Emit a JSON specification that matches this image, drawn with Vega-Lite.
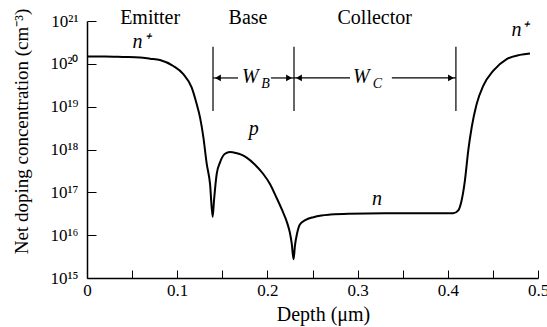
{
  "$schema": "https://vega.github.io/schema/vega-lite/v6.json",
  "width": 451,
  "height": 257,
  "autosize": "none",
  "padding": {"left": 87, "top": 21, "right": 9, "bottom": 49},
  "config": {"view": {"stroke": null}, "font": "Liberation Serif", "text": {"font": "Liberation Serif", "color": "black"},
    "axis": {"labelFont": "Liberation Serif", "titleFont": "Liberation Serif"}},
  "datasets": {
    "curve": [
      {"d": 0, "n": 1.479e20}, {"d": 0.02, "n": 1.479e20}, {"d": 0.04, "n": 1.445e20}, {"d": 0.0588, "n": 1.41e20},
      {"d": 0.07, "n": 1.32e20}, {"d": 0.0809, "n": 1.23e20}, {"d": 0.0957, "n": 8.91e19}, {"d": 0.1068, "n": 5.75e19},
      {"d": 0.116, "n": 2.82e19}, {"d": 0.1216, "n": 1.15e19}, {"d": 0.1253, "n": 5.62e18}, {"d": 0.129, "n": 1.95e18},
      {"d": 0.1327, "n": 4.68e17}, {"d": 0.1364, "n": 1.58e17}, {"d": 0.1393, "n": 2.69e16},
      {"d": 0.1408, "n": 6.46e16}, {"d": 0.1438, "n": 2.69e17}, {"d": 0.1475, "n": 5.01e17}, {"d": 0.153, "n": 7.94e17},
      {"d": 0.1585, "n": 8.71e17}, {"d": 0.165, "n": 8.32e17}, {"d": 0.171, "n": 7.59e17}, {"d": 0.177, "n": 6.46e17},
      {"d": 0.186, "n": 4.47e17}, {"d": 0.195, "n": 2.75e17}, {"d": 0.203, "n": 1.55e17}, {"d": 0.21, "n": 7.59e16},
      {"d": 0.216, "n": 3.98e16}, {"d": 0.222, "n": 1.91e16}, {"d": 0.225, "n": 1.12e16}, {"d": 0.227, "n": 6.31e15},
      {"d": 0.229, "n": 2.75e15},
      {"d": 0.2305, "n": 5.62e15}, {"d": 0.233, "n": 1.12e16}, {"d": 0.236, "n": 1.78e16}, {"d": 0.242, "n": 2.24e16},
      {"d": 0.251, "n": 2.63e16}, {"d": 0.26, "n": 2.88e16}, {"d": 0.27, "n": 3.02e16}, {"d": 0.29, "n": 3.16e16},
      {"d": 0.33, "n": 3.24e16}, {"d": 0.37, "n": 3.24e16}, {"d": 0.406, "n": 3.24e16}, {"d": 0.4116, "n": 3.8e16},
      {"d": 0.4153, "n": 6.46e16}, {"d": 0.419, "n": 1.91e17}, {"d": 0.4227, "n": 9.55e17}, {"d": 0.4265, "n": 3.31e18},
      {"d": 0.432, "n": 1.15e19}, {"d": 0.4394, "n": 3.09e19}, {"d": 0.4505, "n": 6.92e19}, {"d": 0.4653, "n": 1.29e20},
      {"d": 0.48, "n": 1.62e20}, {"d": 0.4911, "n": 1.74e20}
    ],
    "vlines": [{"x": 0.1397, "top": 2.5e20, "bottom": 7.9e18}, {"x": 0.2295, "top": 2.5e20, "bottom": 7.9e18}, {"x": 0.409, "top": 2.5e20, "bottom": 7.9e18}],
    "arrows": [
      {"x1": 0.1397, "x2": 0.1674, "y": 4.68e19},
      {"x1": 0.204, "x2": 0.2295, "y": 4.68e19},
      {"x1": 0.2295, "x2": 0.2916, "y": 4.68e19},
      {"x1": 0.338, "x2": 0.409, "y": 4.68e19}
    ],
    "heads": [
      {"x": 0.1452, "y": 4.68e19, "shape": "triangle-left"},
      {"x": 0.224, "y": 4.68e19, "shape": "triangle-right"},
      {"x": 0.235, "y": 4.68e19, "shape": "triangle-left"},
      {"x": 0.4035, "y": 4.68e19, "shape": "triangle-right"}
    ],
    "regions": [
      {"x": 0.07, "y": 8.5e20, "t": "Emitter"},
      {"x": 0.1785, "y": 8.5e20, "t": "Base"},
      {"x": 0.319, "y": 8.5e20, "t": "Collector"}
    ],
    "italics": [
      {"x": 0.06, "y": 2.34e20, "t": "n⁺"},
      {"x": 0.185, "y": 2.14e18, "t": "p"},
      {"x": 0.3215, "y": 5.0e16, "t": "n"},
      {"x": 0.48, "y": 4.47e20, "t": "n⁺"},
      {"x": 0.181, "y": 3.63e19, "t": "W"},
      {"x": 0.304, "y": 3.63e19, "t": "W"}
    ],
    "subs": [
      {"x": 0.198, "y": 2.75e19, "t": "B"},
      {"x": 0.322, "y": 2.75e19, "t": "C"}
    ]
  },
  "layer": [
    {
      "data": {"name": "curve"},
      "mark": {"type": "line", "color": "black", "strokeWidth": 2, "interpolate": "monotone", "clip": false},
      "encoding": {
        "x": {"field": "d", "type": "quantitative", "scale": {"domain": [0, 0.5], "nice": false},
          "axis": {"values": [0, 0.05, 0.1, 0.15, 0.2, 0.25, 0.3, 0.35, 0.4, 0.45, 0.5],
            "labelExpr": "round(datum.value*100) % 10 == 0 ? (datum.value == 0 ? '0' : format(datum.value, '.1f')) : ''",
            "grid": false, "tickSize": -8, "labelPadding": 12, "tickColor": "black", "domainColor": "black", "domainWidth": 1.5,
            "labelFont": "Liberation Serif", "labelFontSize": 17, "labelColor": "black", "labelFlush": false, "labelOverlap": false,
            "title": "Depth (μm)", "titleFont": "Liberation Serif", "titleFontSize": 20, "titleFontWeight": "normal", "titleColor": "black",
            "titleX": 236, "titleY": 42, "titleBaseline": "alphabetic", "titleAlign": "center"}},
        "y": {"field": "n", "type": "quantitative", "scale": {"type": "log", "domain": [1e15, 1e21], "nice": false},
          "axis": {"values": [1e15, 1e16, 1e17, 1e18, 1e19, 1e20, 1e21],
            "labelExpr": "'10' + ['⁰','¹','²','³','⁴','⁵','⁶','⁷','⁸','⁹'][floor(round(log(datum.value)/LN10)/10)] + ['⁰','¹','²','³','⁴','⁵','⁶','⁷','⁸','⁹'][round(log(datum.value)/LN10) % 10]",
            "grid": false, "tickSize": -9, "labelPadding": 18, "tickColor": "black", "domainColor": "black", "domainWidth": 1.5,
            "labelFont": "Liberation Serif", "labelFontSize": 17, "labelColor": "black", "labelOverlap": false, "labelFlush": false,
            "title": "Net doping concentration (cm⁻³)", "titleFont": "Liberation Serif", "titleFontSize": 19, "titleFontWeight": "normal", "titleColor": "black",
            "titleX": -66, "titleY": 110, "titleBaseline": "middle", "titleAlign": "center", "titleAngle": -90}}
      }
    },
    {
      "data": {"name": "vlines"},
      "mark": {"type": "rule", "color": "black", "strokeWidth": 1.2},
      "encoding": {"x": {"field": "x", "type": "quantitative"}, "y": {"field": "top", "type": "quantitative"}, "y2": {"field": "bottom"}}
    },
    {
      "data": {"name": "arrows"},
      "mark": {"type": "rule", "color": "black", "strokeWidth": 1.2},
      "encoding": {"x": {"field": "x1", "type": "quantitative"}, "x2": {"field": "x2"}, "y": {"field": "y", "type": "quantitative"}}
    },
    {
      "data": {"name": "heads"},
      "mark": {"type": "point", "filled": true, "color": "black", "size": 45, "opacity": 1},
      "encoding": {"x": {"field": "x", "type": "quantitative"}, "y": {"field": "y", "type": "quantitative"},
        "shape": {"field": "shape", "type": "nominal", "scale": null, "legend": null}}
    },
    {
      "data": {"name": "regions"},
      "mark": {"type": "text", "fontSize": 20, "align": "center", "baseline": "alphabetic", "clip": false},
      "encoding": {"x": {"field": "x", "type": "quantitative"}, "y": {"field": "y", "type": "quantitative"}, "text": {"field": "t"}}
    },
    {
      "data": {"name": "italics"},
      "mark": {"type": "text", "fontSize": 20, "fontStyle": "italic", "align": "center", "baseline": "alphabetic"},
      "encoding": {"x": {"field": "x", "type": "quantitative"}, "y": {"field": "y", "type": "quantitative"}, "text": {"field": "t"}}
    },
    {
      "data": {"name": "subs"},
      "mark": {"type": "text", "fontSize": 14, "fontStyle": "italic", "align": "center", "baseline": "alphabetic"},
      "encoding": {"x": {"field": "x", "type": "quantitative"}, "y": {"field": "y", "type": "quantitative"}, "text": {"field": "t"}}
    }
  ]
}
